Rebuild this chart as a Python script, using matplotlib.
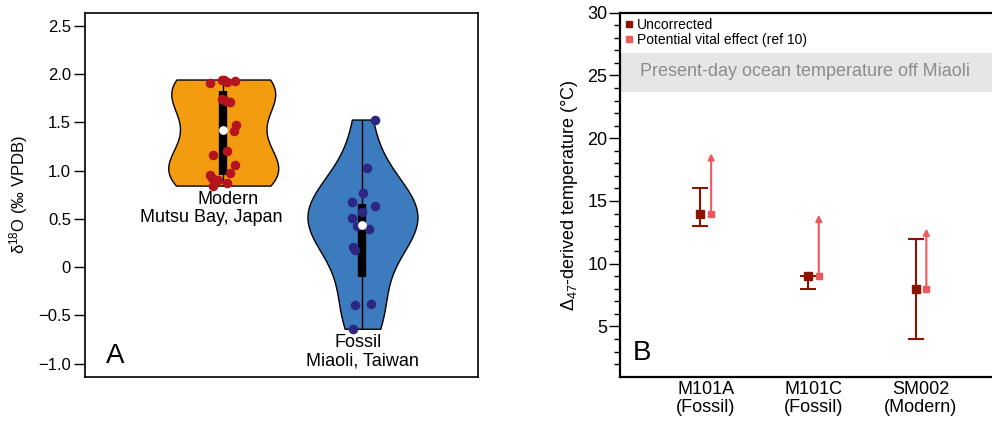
import matplotlib.pyplot as plt
import numpy as np
from matplotlib.lines import Line2D

plt.rcParams['font.family'] = ['Liberation Sans', 'DejaVu Sans']
plt.rcParams['mathtext.fontset'] = 'custom'
plt.rcParams['mathtext.rm'] = 'Liberation Sans'
plt.rcParams['mathtext.it'] = 'Liberation Sans:italic'

# panel A data (d18O, permil VPDB)
modern_vals = [1.91, 1.94, 1.945, 1.92, 1.925, 1.74, 1.72, 1.71, 1.47, 1.41,
               1.16, 1.20, 1.06, 0.98, 0.95, 0.92, 0.845, 0.90, 0.87]
modern_jit = [-0.096, -0.012, 0.005, 0.024, 0.086, -0.012, 0.019, 0.048, 0.091, 0.079,
              -0.076, 0.024, 0.084, 0.048, -0.096, -0.084, -0.072, -0.036, 0.024]
fossil_vals = [1.53, 1.03, 0.765, 0.68, 0.63, 0.575, 0.51, 0.43, 0.40, 0.21,
               0.18, -0.39, -0.38, -0.64]
fossil_jit = [0.091, 0.036, 0.007, -0.076, 0.091, -0.004, -0.076, -0.040, 0.050, -0.065,
              -0.053, -0.053, 0.060, -0.069]
q1 = [0.95, -0.105]
med = [1.42, 0.437]
q3 = [1.83, 0.654]

# panel B data (clumped isotope temperature, deg C)
samples = ['M101A\n(Fossil)', 'M101C\n(Fossil)', 'SM002\n(Modern)']
t_unc = [14, 9, 8]
t_lo = [13, 8, 4]
t_hi = [16, 9, 12]
t_vital = [14, 9, 8]
t_vital_top = [18.8, 13.9, 12.8]
band = (23.7, 26.8)

fig = plt.figure(figsize=(9.92, 4.22), dpi=100)
axA = fig.add_axes([85/992, 1-377/422, (478-85)/992, (377-12.5)/422])
axB = fig.add_axes([620/992, 1-376.7/422, 1-620/992, (376.7-12.7)/422])

# ---- A
pos = [1, 2]
vp = axA.violinplot([modern_vals, fossil_vals], positions=pos, widths=0.79,
                    showextrema=False, bw_method=0.6)
for body, fc in zip(vp['bodies'], ['#F39C0F', '#3C7BBE']):
    body.set_facecolor(fc)
    body.set_edgecolor('black')
    body.set_linewidth(1.0)
    body.set_alpha(1)
allv = [modern_vals, fossil_vals]
for i in range(2):
    axA.vlines(pos[i], min(allv[i]), max(allv[i]), color='black', lw=1.0, zorder=2)
    axA.vlines(pos[i], q1[i], q3[i], color='black', lw=6, zorder=3)
axA.scatter(np.array(modern_jit) + 1, modern_vals, s=48, color='#B3141D', zorder=4, lw=0)
axA.scatter(np.array(fossil_jit) + 2, fossil_vals, s=48, color='#2B2783', zorder=4, lw=0)
axA.scatter(pos, med, s=40, color='white', zorder=5, lw=0)

axA.text(1.034, 0.696, 'Modern', ha='center', va='center', fontsize=13)
axA.text(0.917, 0.509, 'Mutsu Bay, Japan', ha='center', va='center', fontsize=13)
axA.text(1.967, -0.785, 'Fossil', ha='center', va='center', fontsize=13)
axA.text(2.001, -0.971, 'Miaoli, Taiwan', ha='center', va='center', fontsize=13)
axA.text(0.076, 0.058, 'A', transform=axA.transAxes, ha='center', va='center', fontsize=20)

axA.set_xlim(0.007, 2.83)
axA.set_ylim(-1.14, 2.64)
axA.set_xticks([])
yt = [-1.0, -0.5, 0, 0.5, 1.0, 1.5, 2.0, 2.5]
axA.set_yticks(yt)
axA.set_yticklabels(['\u22121.0', '\u22120.5', '0', '0.5', '1.0', '1.5', '2.0', '2.5'])
axA.tick_params(axis='y', length=8, width=1, labelsize=12, pad=2)
axA.set_ylabel('\u03b4$^{18}$O (\u2030 VPDB)', fontsize=12, labelpad=6)
for s in axA.spines.values():
    s.set_linewidth(1.2)

# ---- B
x = np.arange(1, 4)
dx = 0.1
axB.axhspan(band[0], band[1], color='#E6E6E6', lw=0, zorder=0)
axB.text(0.054, 25.3, 'Present-day ocean temperature off Miaoli', transform=axB.get_yaxis_transform(),
         ha='left', va='center', fontsize=13, color='#8C8C8C')
yerr = [np.array(t_unc) - np.array(t_lo), np.array(t_hi) - np.array(t_unc)]
axB.errorbar(x, t_unc, yerr=yerr, fmt='s', color='#8B1300', ms=5.5, capsize=5.5,
             elinewidth=1.5, capthick=1.5, zorder=3)
for xi, v, top in zip(x + dx, t_vital, t_vital_top):
    axB.annotate('', xy=(xi, top), xytext=(xi, v),
                 arrowprops=dict(arrowstyle='-|>', color='#EC5A5E', lw=1.5,
                                 mutation_scale=9, shrinkA=0, shrinkB=0))
axB.plot(x + dx, t_vital, 's', color='#EC5A5E', ms=5, zorder=3)

h = [Line2D([], [], marker='s', ls='', color='#8B1300', ms=5),
     Line2D([], [], marker='s', ls='', color='#EC5A5E', ms=5)]
axB.legend(h, ['Uncorrected', 'Potential vital effect (ref 10)'], loc='upper left',
           frameon=False, fontsize=10, handlelength=0.6, handletextpad=0.3,
           borderaxespad=0.15, borderpad=0.2, labelspacing=0.1)
axB.text(0.06, 0.066, 'B', transform=axB.transAxes, ha='center', va='center', fontsize=20)

axB.set_xlim(0.253, 3.71)
axB.set_ylim(1, 30)
axB.set_xticks(x + 0.05)
axB.set_xticklabels(samples, fontsize=13, linespacing=1.05)
axB.tick_params(axis='x', length=0, pad=3)
axB.set_yticks([5, 10, 15, 20, 25, 30])
axB.set_yticks(np.arange(2, 30), minor=True)
axB.tick_params(axis='y', which='major', length=8, width=1, labelsize=13, pad=1)
axB.tick_params(axis='y', which='minor', length=4, width=1)
axB.set_ylabel('\u0394$_{\\mathit{47}}$-derived temperature (\u00b0C)', fontsize=13, labelpad=5)
axB.spines['right'].set_visible(False)
for s in ['left', 'top', 'bottom']:
    axB.spines[s].set_linewidth(1.6)

fig.savefig('out.png', dpi=100)
